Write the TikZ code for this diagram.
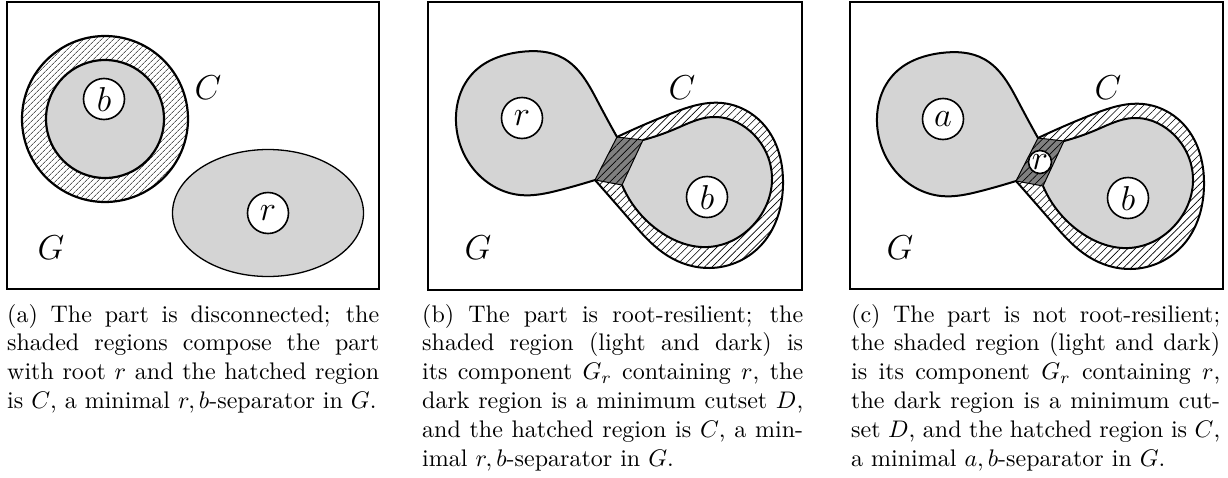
\documentclass[tikz,border=0pt]{standalone}
\usepackage{graphicx}
\usetikzlibrary{patterns.meta,hobby}
\definecolor{lightshade}{gray}{0.83}
\definecolor{darkshade}{gray}{0.50}
\tikzset{
  use Hobby shortcut,
  frame/.style={line width=1.6pt},
  outline/.style={line width=2pt, line join=round},
  thinline/.style={line width=1pt, line join=round},
  hatchA/.style={pattern={Lines[angle=45,distance=4pt,line width=0.6pt]}},
  hatchB/.style={pattern={Lines[angle=45,distance=5.3pt,line width=0.65pt]}},
  vertex/.style={circle, draw, fill=white, line width=1.6pt, minimum size=41pt, inner sep=0pt},
  smallvertex/.style={vertex, minimum size=23pt},
  lab/.style={inner sep=0pt, anchor=base},
  capt/.style={inner sep=0pt, anchor=base west}
}
\newcommand{\bigsym}[1]{\scalebox{2.4}{\Large$#1$}}
\newcommand{\leftlobe}{(617,137) .. (598,102) .. (563,58) .. (520,52) .. (474,72) .. (456,122) .. (476,172) .. (520,195) .. (560,190) .. (595,180)}
\newcommand{\outerlobe}{(595,180) .. (630,220) .. (668,256) .. (710,268) .. (763,243) .. (783,185) .. (764,125) .. (722,103) .. (670,114) .. (617,137)}
\newcommand{\innerlobe}{(622,185) .. (662,233) .. (708,247) .. (755,223) .. (772,178) .. (750,131) .. (712,117) .. (675,129) .. (643,140)}
\newcommand{\mydumbbell}{%
  \path[hatchB] \outerlobe -- cycle;
  \fill[lightshade] \leftlobe -- cycle;
  \fill[lightshade] \innerlobe -- cycle;
  \fill[darkshade] (617,137) -- (643,140) -- (622,185) -- (595,180) -- cycle;
  \path[hatchB] (617,137) -- (643,140) -- (622,185) -- (595,180) -- cycle;
  \draw[thinline] (617,137) -- (643,140) -- (622,185) -- (595,180) -- cycle;
  \draw[outline] \leftlobe;
  \draw[outline] \outerlobe;
  \draw[outline] \innerlobe;
}
\begin{document}
\begin{tikzpicture}[x=1pt,y=-1pt]
\useasboundingbox (0,0) rectangle (1228,477);
\fill[white] (0,0) rectangle (1228,477);

% ---------------- (a) ----------------
\draw[frame] (7,2) rectangle (379,289);
\path[hatchA] (105,119) circle[radius=83];
\fill[lightshade] (105,119) circle[radius=59];
\draw[outline, line width=2.2pt] (105,119) circle[radius=83];
\draw[outline, line width=2.2pt] (105,119) circle[radius=59];
\fill[lightshade] (268,213) ellipse[x radius=95.5, y radius=63.5];
\draw[line width=1.3pt] (268,213) ellipse[x radius=95.5, y radius=63.5];
\node[vertex] (b1) at (104,99) {\bigsym{b}};
\node[vertex] (r1) at (268,213) {\bigsym{r}};
\node[lab] (C1) at (208,99) {\bigsym{C}};
\node[lab] (G1) at (51,259) {\bigsym{G}};
\node[capt] (capA) at (7,322) {\scalebox{2.4}{\parbox[t]{155pt}{\fontsize{10}{12}\selectfont\hbadness=10000
(a) The part is disconnected; the\linebreak
shaded regions compose the part\linebreak
with root $r$ and the hatched region\linebreak
is $C$, a minimal $r,b$-separator in $G$.}}};

% ---------------- (b) ----------------
\draw[frame] (428,2) rectangle (802,290);
\mydumbbell
\node[vertex] (r2) at (522,118) {\bigsym{r}};
\node[vertex] (b2) at (707,197) {\bigsym{b}};
\node[lab] (C2) at (682,99) {\bigsym{C}};
\node[lab] (G2) at (478,259) {\bigsym{G}};
\node[capt] (capB) at (422,322) {\scalebox{2.4}{\parbox[t]{158.75pt}{\fontsize{10}{12}\selectfont\hbadness=10000
(b) The part is root-resilient; the\linebreak
shaded region (light and dark) is\linebreak
its component $G_r$ containing $r$, the\linebreak
dark region is a minimum cutset $D$,\linebreak
and the hatched region is $C$, a min-\linebreak
imal $r,b$-separator in $G$.}}};

% ---------------- (c) ----------------
\draw[frame] (850,2) rectangle (1223,289);
\begin{scope}[shift={(421,1)}]
\mydumbbell
\node[vertex] (a3) at (522,118) {\bigsym{a}};
\node[vertex] (b3) at (707,197) {\bigsym{b}};
\node[smallvertex] (r3) at (619,161) {\bigsym{r}};
\end{scope}
\node[lab] (C3) at (1108,99) {\bigsym{C}};
\node[lab] (G3) at (900,259) {\bigsym{G}};
\node[capt] (capC) at (851,322) {\scalebox{2.4}{\parbox[t]{153.75pt}{\fontsize{10}{12}\selectfont\hbadness=10000
(c) The part is not root-resilient;\linebreak
the shaded region (light and dark)\linebreak
is its component $G_r$ containing $r$,\linebreak
the dark region is a minimum cut-\linebreak
set $D$, and the hatched region is $C$,\linebreak
a minimal $a,b$-separator in $G$.}}};
\end{tikzpicture}
\end{document}
